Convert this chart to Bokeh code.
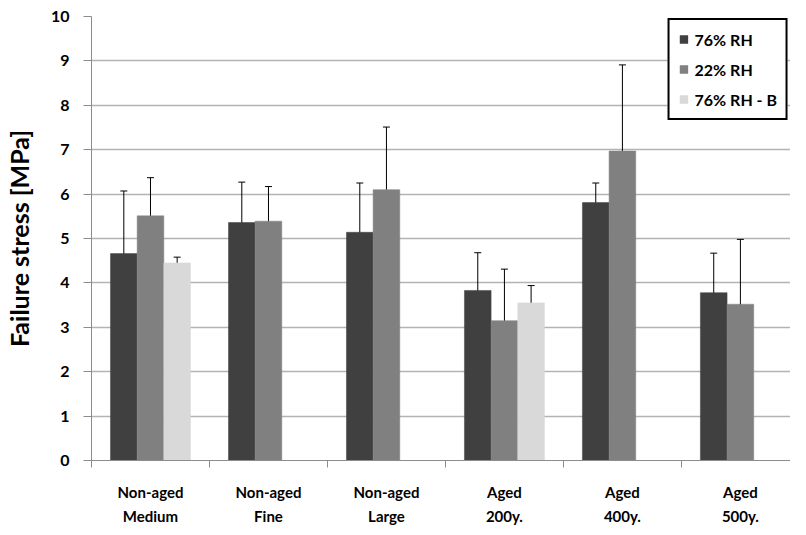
from bokeh.plotting import figure
from bokeh.models import (Range1d, FixedTicker, ColumnDataSource, Whisker, TeeHead,
                          Legend, LegendItem)
from bokeh.embed import file_html
from bokeh.resources import INLINE

categories = ["Non-aged\nMedium", "Non-aged\nFine", "Non-aged\nLarge",
              "Aged\n200y.", "Aged\n400y.", "Aged\n500y."]
series_names = ["76% RH", "22% RH", "76% RH - B"]

rh76 = [4.66, 5.36, 5.14, 3.83, 5.81, 3.78]
rh76_hi = [6.07, 6.27, 6.25, 4.68, 6.25, 4.67]
rh76_lo = [3.27, 4.40, 4.04, 2.98, 5.36, 2.91]

rh22 = [5.51, 5.39, 6.10, 3.15, 6.97, 3.52]
rh22_hi = [6.37, 6.17, 7.51, 4.31, 8.91, 4.98]
rh22_lo = [4.66, 4.61, 4.68, 1.99, 5.00, 2.05]

rh76b = [4.45, None, None, 3.55, None, None]
rh76b_hi = [4.58, None, None, 3.94, None, None]
rh76b_lo = [4.29, None, None, 3.12, None, None]

y_ticks = [0, 1, 2, 3, 4, 5, 6, 7, 8, 9, 10]

colors = ["#404040", "#808080", "#d9d9d9"]
FONT = "Lato"

W, H = 790, 527
frame_w = W - 82
cat_px = 119.5

p = figure(width=W, height=H, output_backend="svg", toolbar_location=None,
           x_range=Range1d(0, frame_w / cat_px), y_range=Range1d(0, 10),
           min_border_left=82, min_border_right=0, min_border_top=16,
           min_border_bottom=60)
p.outline_line_color = None
p.background_fill_color = "white"

bw = 0.226
offsets = [-bw, 0.0, bw]
all_series = [(rh76, rh76_hi, rh76_lo), (rh22, rh22_hi, rh22_lo), (rh76b, rh76b_hi, rh76b_lo)]
renderers = []
for k, (vals, hi, lo) in enumerate(all_series):
    xs, ys, his, los = [], [], [], []
    for i, v in enumerate(vals):
        if v is None:
            continue
        xs.append(i + 0.5 + offsets[k])
        ys.append(v)
        his.append(hi[i])
        los.append(lo[i])
    src = ColumnDataSource(dict(x=xs, top=ys, upper=his, lower=los))
    r = p.vbar(x="x", top="top", bottom=0, width=bw, source=src,
               fill_color=colors[k], line_color=colors[k], line_width=0.5)
    renderers.append(r)
    wh = Whisker(source=src, base="x", upper="upper", lower="lower",
                 dimension="height", line_color="black", line_width=1,
                 upper_head=TeeHead(size=7, line_color="black", line_width=1),
                 lower_head=TeeHead(size=7, line_color="black", line_width=1))
    p.add_layout(wh)

# grid
p.xgrid.grid_line_color = None
p.ygrid.grid_line_color = "#b3b3b3"
p.ygrid.grid_line_width = 1.5

# y axis
p.yaxis.ticker = FixedTicker(ticks=y_ticks)
p.yaxis.axis_label = "Failure stress [MPa]"
p.yaxis.axis_label_text_font = FONT
p.yaxis.axis_label_text_font_style = "bold"
p.yaxis.axis_label_text_font_size = "25px"
p.yaxis.axis_label_text_color = "black"
p.yaxis.axis_label_standoff = 14
p.yaxis.major_label_text_font = FONT
p.yaxis.major_label_text_font_style = "bold"
p.yaxis.major_label_text_font_size = "16px"
p.yaxis.major_label_text_color = "black"
p.yaxis.major_label_standoff = 14
p.yaxis.axis_line_color = "#8c8c8c"
p.yaxis.major_tick_line_color = "#8c8c8c"
p.yaxis.major_tick_out = 8
p.yaxis.major_tick_in = 0
p.yaxis.minor_tick_line_color = None

# x axis
centers = [i + 0.5 for i in range(len(categories))]
bounds = [i for i in range(len(categories) + 1)]
p.xaxis.ticker = FixedTicker(ticks=centers, minor_ticks=bounds)
p.xaxis.major_label_overrides = {c: lab for c, lab in zip(centers, categories)}
p.xaxis.major_tick_line_color = None
p.xaxis.major_tick_out = 0
p.xaxis.major_tick_in = 0
p.xaxis.minor_tick_line_color = "#8c8c8c"
p.xaxis.minor_tick_out = 7
p.xaxis.minor_tick_in = 0
p.xaxis.axis_line_color = "#8c8c8c"
p.xaxis.major_label_text_font = FONT
p.xaxis.major_label_text_font_style = "bold"
p.xaxis.major_label_text_font_size = "15px"
p.xaxis.major_label_text_color = "black"
p.xaxis.major_label_text_line_height = 1.35
p.xaxis.major_label_standoff = 15

legend = Legend(items=[LegendItem(label=n, renderers=[r]) for n, r in zip(series_names, renderers)],
                location="top_right")
legend.border_line_color = "black"
legend.border_line_alpha = 1
legend.border_line_width = 2
legend.background_fill_color = "white"
legend.background_fill_alpha = 1
legend.label_text_font = FONT
legend.label_text_font_style = "bold"
legend.label_text_font_size = "16px"
legend.label_text_color = "black"
legend.glyph_width = 10
legend.glyph_height = 10
legend.label_height = 20
legend.label_standoff = 6
legend.spacing = 10
legend.padding = 9
legend.margin = 2
p.add_layout(legend)

open("out.html", "w").write(file_html(p, INLINE))
